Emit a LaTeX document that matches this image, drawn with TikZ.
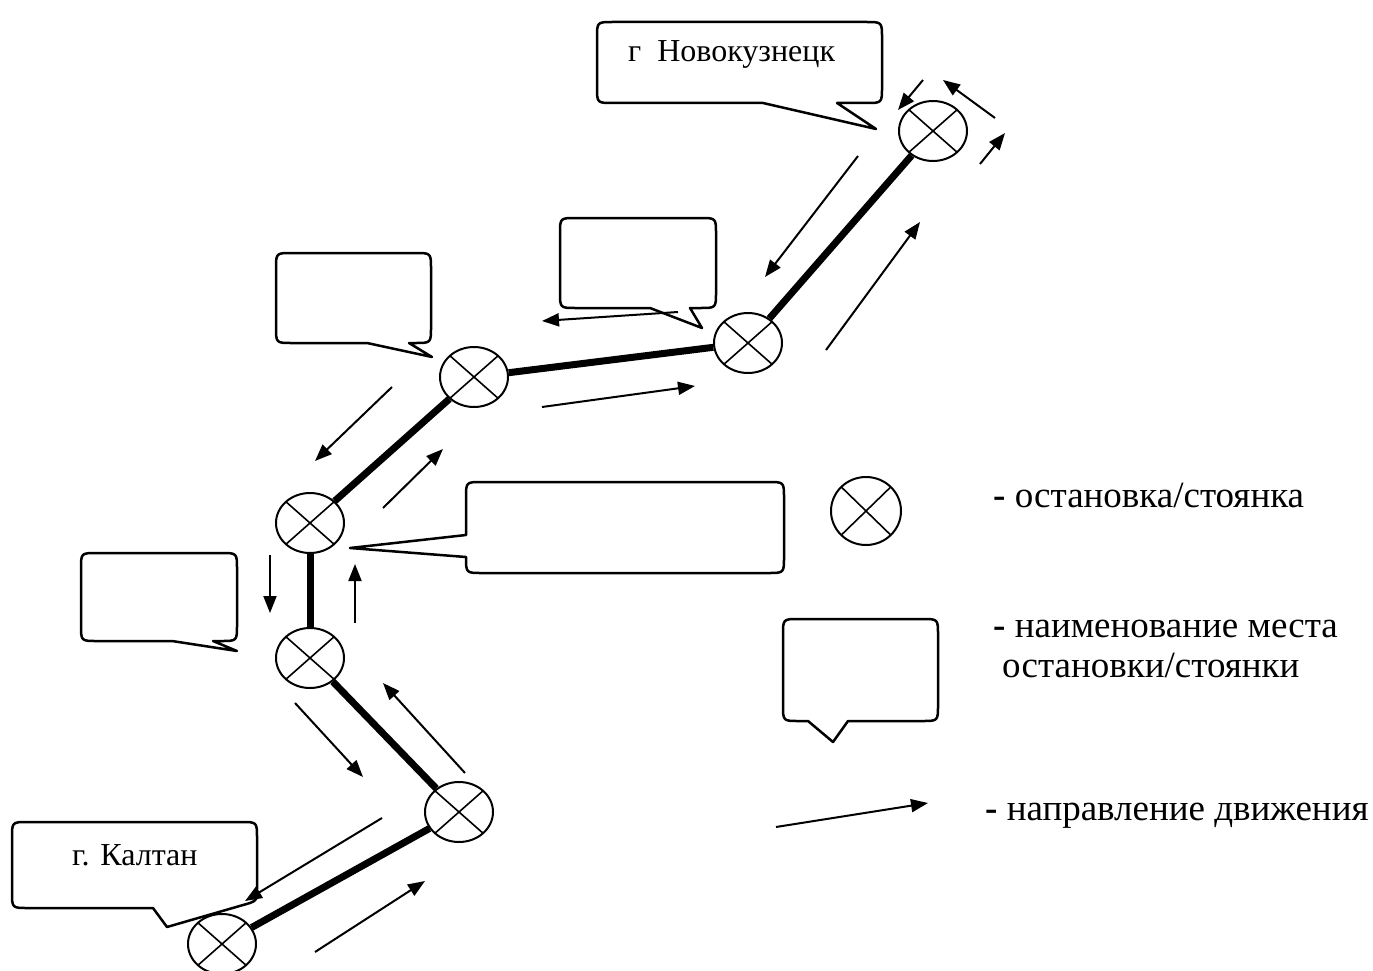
\documentclass[tikz,border=0pt]{standalone}
\usepackage{fontspec}
\setmainfont{Liberation Serif}
\usetikzlibrary{shapes.geometric,arrows.meta}
\tikzset{
  stopnode/.style={ellipse, draw, line width=2pt, minimum width=68pt, minimum height=60pt, inner sep=0pt,
    path picture={\draw[line width=1.6pt] (path picture bounding box.north west) -- (path picture bounding box.south east)
      (path picture bounding box.north east) -- (path picture bounding box.south west);}},
  roadline/.style={line width=7pt},
  dirarrow/.style={line width=2pt, -{Triangle[length=17pt,width=13pt]}},
  cbox/.style={line width=2.5pt, line join=round},
  lbl/.style={font=\fontsize{32}{36}\selectfont, anchor=base west, inner sep=0pt},
  legtxt/.style={font=\fontsize{37}{44}\selectfont, anchor=base west, inner sep=0pt},
}
% callout with pointer on bottom edge: L T R B pa tipx tipy pb
\newcommand{\mkcallout}[8]{%
  \draw[cbox] ({#1+16},#2) -- ({#3-16},#2) .. controls (#3,#2) .. (#3,{#2+16})
    -- (#3,{#4-16}) .. controls (#3,#4) .. ({#3-16},#4)
    -- (#8,#4) -- (#6,#7) -- (#5,#4)
    -- ({#1+16},#4) .. controls (#1,#4) .. (#1,{#4-16})
    -- (#1,{#2+16}) .. controls (#1,#2) .. ({#1+16},#2) -- cycle;}
\begin{document}
\begin{tikzpicture}[x=1pt,y=-1pt]
\useasboundingbox (0,0) rectangle (1373,971);

% stops
\node[stopnode] (s1) at (222,944) {};
\node[stopnode] (s2) at (459,812) {};
\node[stopnode] (s3) at (310,658) {};
\node[stopnode] (s4) at (310,523) {};
\node[stopnode] (s5) at (474,377) {};
\node[stopnode] (s6) at (748,343) {};
\node[stopnode] (s7) at (933,131) {};

% road
\draw[roadline] (s1) -- (s2);
\draw[roadline] (s2) -- (s3);
\draw[roadline] (s3) -- (s4);
\draw[roadline] (s4) -- (s5);
\draw[roadline] (s5) -- (s6);
\draw[roadline] (s6) -- (s7);

% direction arrows
\draw[dirarrow] (923,80) -- (898,110);
\draw[dirarrow] (995,118) -- (943,80);
\draw[dirarrow] (980,164) -- (1005,133);
\draw[dirarrow] (858,156) -- (765,277);
\draw[dirarrow] (826,350) -- (920,222);
\draw[dirarrow] (678,312) -- (542,321);
\draw[dirarrow] (542,407) -- (695,386);
\draw[dirarrow] (392,387) -- (315,461);
\draw[dirarrow] (383,508) -- (443,449);
\draw[dirarrow] (270,555) -- (270,613);
\draw[dirarrow] (355,623) -- (355,564);
\draw[dirarrow] (295,703) -- (363,777);
\draw[dirarrow] (465,773) -- (383,683);
\draw[dirarrow] (382,818) -- (245,901);
\draw[dirarrow] (315,952) -- (425,881);

% callouts
\mkcallout{597}{22}{882}{103}{763}{876}{129}{837}
\node[lbl] (novtxt) at (628,62) {г\ \ Новокузнецк};
\mkcallout{560}{218}{716}{308}{650}{702}{328}{690}
\mkcallout{276}{253}{431}{343}{367}{432}{357}{409}
\mkcallout{81}{553}{237}{641}{172}{237}{651}{213}
% wide callout, pointer on left edge
\draw[cbox] (482,482) -- (768,482) .. controls (784,482) .. (784,498)
  -- (784,557) .. controls (784,573) .. (768,573)
  -- (482,573) .. controls (466,573) .. (466,557)
  -- (350,548) -- (466,535)
  -- (466,498) .. controls (466,482) .. (482,482) -- cycle;
% Kaltan callout
\draw[cbox] (28,822) -- (241,822) .. controls (257,822) .. (257,838)
  -- (257,888) .. controls (257,900) .. (250,903)
  -- (167,927) -- (153,908)
  -- (28,908) .. controls (12,908) .. (12,892)
  -- (12,838) .. controls (12,822) .. (28,822) -- cycle;
\node[lbl] (kaltxt) at (72,865) {г. Калтан};

% legend
\node[stopnode, minimum width=70pt, minimum height=68pt] (legstop) at (866,511) {};
\node[legtxt] (leg1) at (993,507) {\textbf{-} остановка/стоянка};
\mkcallout{783}{619}{938}{721}{808}{833}{742}{848}
\node[legtxt] (leg2) at (993,637) {\textbf{-} наименование места};
\node[legtxt] (leg3) at (1002,677) {остановки/стоянки};
\coordinate (legA) at (776,827);
\coordinate (legB) at (928,803);
\draw[dirarrow] (legA) -- (legB);
\node[legtxt] (leg4) at (985,820) {\textbf{-} направление движения};
\end{tikzpicture}
\end{document}
